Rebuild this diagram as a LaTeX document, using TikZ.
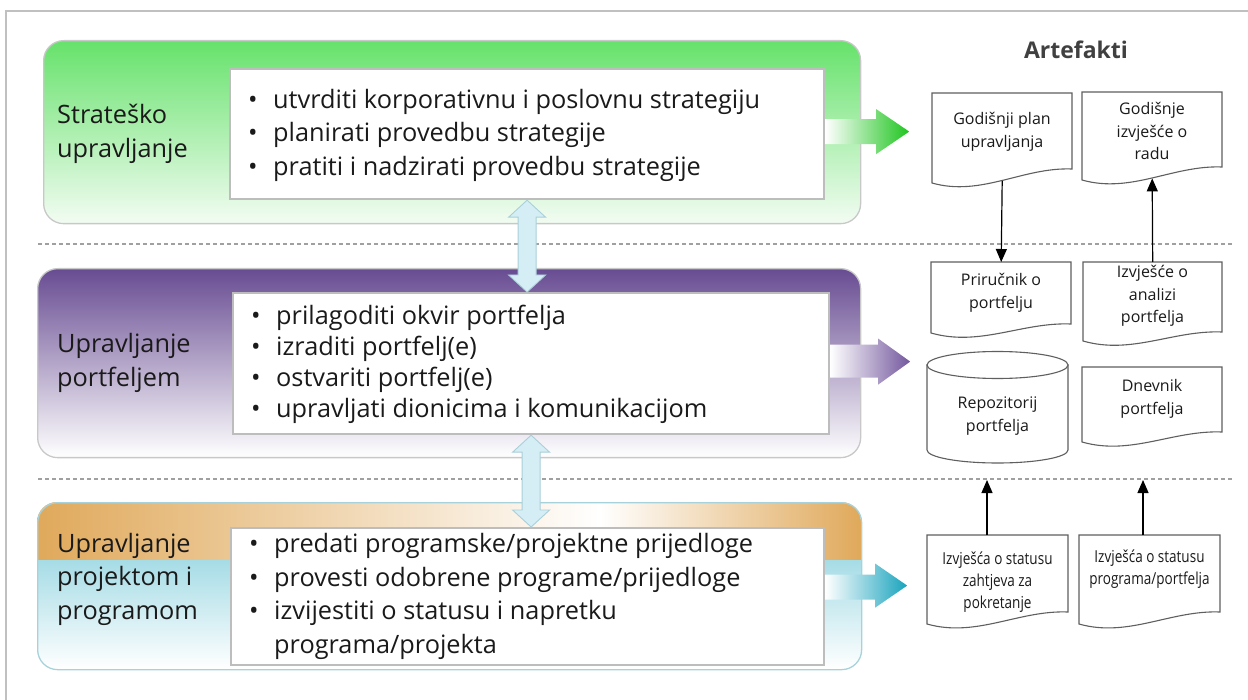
\documentclass[tikz,border=0pt]{standalone}
\usepackage{fontspec}
\setmainfont{Open Sans}
\newfontfamily\narrowsans[FakeStretch=0.82]{Open Sans}
\usetikzlibrary{arrows.meta,calc}

\definecolor{greenTop}{HTML}{66E26B}
\definecolor{greenBot}{HTML}{F3FCF3}
\definecolor{purpTop}{HTML}{684C92}
\definecolor{purpBot}{HTML}{FFFFFF}
\definecolor{orangeBand}{HTML}{E0A95B}
\definecolor{cyanBand}{HTML}{A6DCE6}
\definecolor{frameGray}{HTML}{C0C0C0}
\definecolor{panelEdge}{HTML}{C8C8C8}
\definecolor{listEdge}{HTML}{BDBDBD}
\definecolor{docEdge}{HTML}{5F5F5F}
\definecolor{dashGray}{HTML}{A0A0A0}
\definecolor{linkFill}{HTML}{D5EEF5}
\definecolor{linkEdge}{HTML}{AACFD9}
\definecolor{arrGreen}{HTML}{1FC51F}
\definecolor{arrPurple}{HTML}{73579D}
\definecolor{arrCyan}{HTML}{19A3BD}
\definecolor{inkText}{HTML}{1A1A1A}
\definecolor{headText}{HTML}{404040}
\definecolor{tealEdge}{HTML}{A8D2DB}

% one document sheet with a wavy lower edge:
% #1 name, #2 left, #3 top, #4 right, #5 right-bottom, #6 left-bottom,
% #7 text, #8 text centre, #9 text style
\newcommand{\docsheet}[9]{%
  \pgfmathsetmacro\sheetw{#4-#2}%
  \pgfmathsetmacro\sheeth{(#5+#6)/2+4.5-#3}%
  \draw[docedge] (#2,#3) -- (#4,#3) -- (#4,#5)
    .. controls ({#2+0.65*\sheetw},{#5-2}) and ({#2+0.35*\sheetw},{#6+14}) .. (#2,#6) -- cycle;
  \node[docframe, minimum width=\sheetw pt, minimum height=\sheeth pt] (#1) at (#2,#3) {};
  \node[#9] (#1-t) at ({(#2+#4)/2},#8) {#7};
}

\begin{document}
\begin{tikzpicture}[x=1pt,y=-1pt,
  panel/.style={draw=panelEdge, line width=1.3pt, rounded corners=20pt, anchor=north west, inner sep=0pt},
  listbox/.style={draw=listEdge, line width=2.2pt, fill=white, anchor=north west, inner sep=0pt},
  listtext/.style={font=\fontsize{25.3}{33.5}\selectfont, align=left, text=inkText, anchor=west, inner sep=0pt},
  lanetext/.style={font=\fontsize{25.3}{33.5}\selectfont, align=left, text=inkText, anchor=west, inner sep=0pt},
  docedge/.style={draw=docEdge, line width=1.1pt, fill=white},
  docframe/.style={rectangle, draw=none, anchor=north west, inner sep=0pt},
  doctext/.style={font=\fontsize{16}{22.5}\selectfont, align=center, text=inkText, inner sep=0pt},
  smalldoctext/.style={font=\narrowsans\fontsize{16.5}{22}\selectfont, align=center, text=inkText, inner sep=0pt},
  flow/.style={-{Triangle[width=11pt,length=13pt]}, line width=1.2pt, draw=black},
  twoway/.style={fill=linkFill, draw=linkEdge, line width=0.9pt},
  laneline/.style={draw=dashGray, line width=1.2pt, dash pattern=on 4pt off 3pt}
]
\useasboundingbox (0,0) rectangle (1248,700);

% outer frame
\draw[frameGray, line width=2pt] (6,700) -- (6,11) -- (1248,11);

% ---------- strategic lane ----------
\node[panel, top color=greenTop, bottom color=greenBot,
      minimum width=817pt, minimum height=183pt] (strat) at (43,40) {};
\node[listbox, minimum width=594pt, minimum height=130pt] (stratlist) at (229,68) {};
\node[listtext] (stratitems) at ([xshift=19pt,yshift=-1pt]stratlist.west)
  {\makebox[25pt][l]{\textbullet}utvrditi korporativnu i poslovnu strategiju\\
   \makebox[25pt][l]{\textbullet}planirati provedbu strategije\\
   \makebox[25pt][l]{\textbullet}pratiti i nadzirati provedbu strategije};
\node[lanetext] (stratname) at (57,134) {Strateško\\upravljanje};

% ---------- portfolio lane ----------
\node[panel, top color=purpTop, bottom color=purpBot,
      minimum width=823pt, minimum height=189pt] (port) at (37,268) {};
\node[listbox, minimum width=596pt, minimum height=141pt] (portlist) at (232,292) {};
\node[listtext, font=\fontsize{25.3}{31}\selectfont] (portitems) at ([xshift=19pt,yshift=-1pt]portlist.west)
  {\makebox[25pt][l]{\textbullet}prilagoditi okvir portfelja\\
   \makebox[25pt][l]{\textbullet}izraditi portfelj(e)\\
   \makebox[25pt][l]{\textbullet}ostvariti portfelj(e)\\
   \makebox[25pt][l]{\textbullet}upravljati dionicima i komunikacijom};
\node[lanetext, font=\fontsize{25.3}{34}\selectfont] (portname) at (57,363) {Upravljanje\\portfeljem};

% ---------- project / programme lane ----------
\begin{scope}
  \clip[rounded corners=20pt] (37,502) rectangle (861,669);
  \shade[left color=orangeBand, right color=white] (37,502) rectangle (600,560);
  \shade[left color=white, right color=orangeBand] (599.5,502) rectangle (861,560);
  \shade[top color=cyanBand, bottom color=white] (37,560) rectangle (861,669);
\end{scope}
\node[panel, draw=tealEdge, minimum width=824pt, minimum height=167pt] (proj) at (37,502) {};
\node[listbox, minimum width=593pt, minimum height=137pt] (projlist) at (230,527) {};
\node[listtext] (projitems) at ([xshift=19pt]projlist.west)
  {\makebox[25pt][l]{\textbullet}predati programske/projektne prijedloge\\
   \makebox[25pt][l]{\textbullet}provesti odobrene programe/prijedloge\\
   \makebox[25pt][l]{\textbullet}izvijestiti o statusu i napretku\\
   \hspace*{25pt}programa/projekta};
\node[lanetext] (projname) at (57,579) {Upravljanje\\projektom i\\programom};

% lane separators
\draw[laneline] (38,244) -- (1232,244);
\draw[laneline] (38,479) -- (1232,479);

% two-way links between the lanes
\path[twoway] let \p1=(stratlist.south), \p2=(portlist.north) in
  (\x1,\y1) -- (\x1+18.5pt,\y1-17pt) -- (\x1+9pt,\y1-17pt) -- (\x1+9pt,\y2+17pt)
  -- (\x1+18.5pt,\y2+17pt) -- (\x1,\y2) -- (\x1-18.5pt,\y2+17pt) -- (\x1-9pt,\y2+17pt)
  -- (\x1-9pt,\y1-17pt) -- (\x1-18.5pt,\y1-17pt) -- cycle;
\path[twoway] let \p1=(portlist.south), \p2=(projlist.north) in
  (\x1,\y1) -- (\x1+18.5pt,\y1-17pt) -- (\x1+9pt,\y1-17pt) -- (\x1+9pt,\y2+17pt)
  -- (\x1+18.5pt,\y2+17pt) -- (\x1,\y2) -- (\x1-18.5pt,\y2+17pt) -- (\x1-9pt,\y2+17pt)
  -- (\x1-9pt,\y1-17pt) -- (\x1-18.5pt,\y1-17pt) -- cycle;

% block arrows towards the artefacts
\shade[left color=white, right color=arrGreen] let \p1=(stratlist.east) in
  (\x1,\y1+15pt) -- (\x1+51pt,\y1+15pt) -- (\x1+51pt,\y1+25pt) -- (\x1+84pt,\y1+2.5pt)
  -- (\x1+51pt,\y1-20pt) -- (\x1+51pt,\y1-10pt) -- (\x1,\y1-10pt) -- cycle;
\shade[left color=white, right color=arrPurple] let \p1=(portlist.east) in
  (\x1,\y1+19pt) -- (\x1+48pt,\y1+19pt) -- (\x1+48pt,\y1+25pt) -- (\x1+80pt,\y1+2pt)
  -- (\x1+48pt,\y1-21pt) -- (\x1+48pt,\y1-14pt) -- (\x1,\y1-14pt) -- cycle;
\shade[left color=white, right color=arrCyan] let \p1=(projlist.east) in
  (\x1,\y1+22pt) -- (\x1+50pt,\y1+22pt) -- (\x1+50pt,\y1+33pt) -- (\x1+82pt,\y1+11pt)
  -- (\x1+50pt,\y1-11pt) -- (\x1+50pt,\y1-3pt) -- (\x1,\y1-3pt) -- cycle;

% ---------- artefacts ----------
\node[font=\bfseries\fontsize{23}{28}\selectfont, text=headText] (arthead) at (1076,50) {Artefakti};

\docsheet{plan}{932}{93}{1072}{169}{183}{Godišnji plan\\upravljanja}{132}{doctext}
\docsheet{report}{1082}{92}{1222}{167}{180}{Godišnje\\izvješće o\\radu}{131}{doctext}
\docsheet{manual}{931}{262}{1071}{324}{333}{Priručnik o\\portfelju}{293}{doctext}
\docsheet{analysis}{1083}{262}{1222}{332}{341}{Izvješće o\\analizi\\portfelja}{296}{doctext}
\docsheet{journal}{1082}{367}{1222}{432}{442}{Dnevnik\\portfelja}{399}{doctext}
\docsheet{launch}{927}{535}{1068}{612}{624}{Izvješća o statusu\\zahtjeva za\\pokretanje}{582}{smalldoctext}
\docsheet{status}{1079}{535}{1220}{612}{624}{Izvješća o statusu\\programa/portfelja}{569}{smalldoctext}

% repository cylinder
\path[docedge] (927,365) -- (927,450)
  .. controls (927,457.2) and (958.6,463) .. (997.5,463)
  .. controls (1036.4,463) and (1068,457.2) .. (1068,450) -- (1068,365) -- cycle;
\draw[docedge] (997.5,365) ellipse [x radius=70.5, y radius=13.5];
\node[doctext] (repo) at (997.5,416) {Repozitorij\\portfelja};

% flows between artefacts
\coordinate (gateA) at (987,480);
\coordinate (gateB) at (1143,480);
\draw[flow] (plan.south) -- (manual.north);
\draw[flow] (analysis.north) -- (report.south);
\draw[flow] (launch.north -| gateA) -- (gateA);
\draw[flow] (status.north -| gateB) -- (gateB);
\end{tikzpicture}
\end{document}
